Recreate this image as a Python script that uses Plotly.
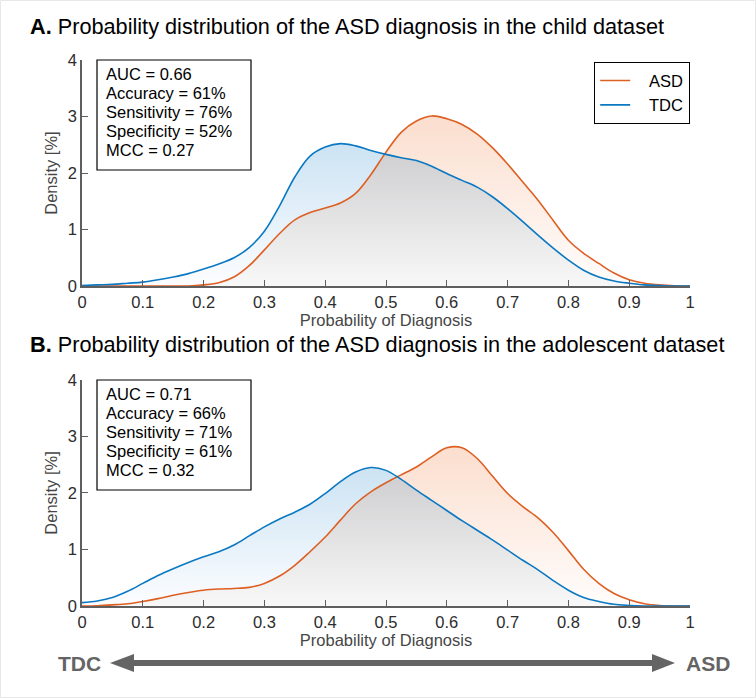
import plotly.graph_objects as go

# ---------------- data ----------------
x_prob = [0.0, 0.025, 0.05, 0.075, 0.1, 0.125, 0.15, 0.175, 0.2, 0.225, 0.25, 0.275, 0.3, 0.325,
          0.35, 0.375, 0.4, 0.425, 0.45, 0.475, 0.5, 0.525, 0.55, 0.575, 0.6, 0.625, 0.65, 0.675,
          0.7, 0.725, 0.75, 0.775, 0.8, 0.825, 0.85, 0.875, 0.9, 0.925, 0.95, 0.975, 1.0]

child_tdc = [0.01, 0.02, 0.03, 0.05, 0.07, 0.11, 0.16, 0.22, 0.30, 0.39, 0.50, 0.68, 0.97, 1.42,
             1.93, 2.30, 2.46, 2.52, 2.48, 2.40, 2.33, 2.27, 2.22, 2.12, 1.99, 1.87, 1.75, 1.58,
             1.37, 1.14, 0.90, 0.67, 0.46, 0.28, 0.16, 0.09, 0.05, 0.02, 0.01, 0.0, 0.0]
child_asd = [0.0, 0.0, 0.0, 0.0, 0.0, 0.0, 0.0, 0.0, 0.02, 0.06, 0.16, 0.36, 0.64, 0.93,
             1.17, 1.30, 1.38, 1.47, 1.64, 1.97, 2.37, 2.72, 2.92, 3.01, 2.96, 2.86, 2.69, 2.45,
             2.16, 1.84, 1.52, 1.16, 0.81, 0.58, 0.40, 0.23, 0.11, 0.05, 0.02, 0.005, 0.0]

adol_tdc = [0.06, 0.09, 0.15, 0.26, 0.40, 0.54, 0.66, 0.77, 0.87, 0.96, 1.08, 1.24, 1.40, 1.54,
            1.66, 1.80, 1.99, 2.20, 2.37, 2.45, 2.40, 2.24, 2.05, 1.87, 1.69, 1.51, 1.34, 1.17,
            0.99, 0.81, 0.64, 0.45, 0.28, 0.15, 0.08, 0.03, 0.01, 0.0, 0.0, 0.0, 0.0]
adol_asd = [0.0, 0.005, 0.02, 0.04, 0.08, 0.13, 0.19, 0.24, 0.28, 0.30, 0.31, 0.33, 0.40, 0.53,
            0.72, 0.96, 1.22, 1.52, 1.81, 2.02, 2.18, 2.32, 2.46, 2.64, 2.80, 2.80, 2.61, 2.30,
            1.99, 1.76, 1.56, 1.30, 0.98, 0.65, 0.40, 0.22, 0.11, 0.04, 0.01, 0.0, 0.0]

metrics_child = ["AUC = 0.66", "Accuracy = 61%", "Sensitivity = 76%", "Specificity = 52%", "MCC = 0.27"]
metrics_adol = ["AUC = 0.71", "Accuracy = 66%", "Sensitivity = 71%", "Specificity = 61%", "MCC = 0.32"]

series_names = ["ASD", "TDC"]
titles = ["<b>A.</b> Probability distribution of the ASD diagnosis in the child dataset",
          "<b>B.</b> Probability distribution of the ASD diagnosis in the adolescent dataset"]
x_ticks = [0, 0.1, 0.2, 0.3, 0.4, 0.5, 0.6, 0.7, 0.8, 0.9, 1]
x_ticklabels = ["0", "0.1", "0.2", "0.3", "0.4", "0.5", "0.6", "0.7", "0.8", "0.9", "1"]
y_ticks = [0, 1, 2, 3, 4]

# ---------------- style ----------------
BLUE = "#0A78C2"
ORANGE = "#DE5F22"
AXIS = "rgb(95,95,95)"
FONT = "Liberation Sans, Arial, sans-serif"
PAD = "\u00a0\u00a0\u00a0"

fig = go.Figure()

panels = [("x", "y", child_asd, child_tdc, True), ("x2", "y2", adol_asd, adol_tdc, False)]
for xa, ya, asd, tdc, show in panels:
    overlap = [min(a, t) for a, t in zip(asd, tdc)]
    fig.add_trace(go.Scatter(x=x_prob, y=asd, xaxis=xa, yaxis=ya, mode="lines",
                             line=dict(width=0, shape="spline"), fill="tozeroy",
                             fillgradient=dict(type="vertical",
                                               colorscale=[[0, "rgb(255,253,252)"], [1, "rgb(251,222,206)"]]),
                             showlegend=False, hoverinfo="skip"))
    fig.add_trace(go.Scatter(x=x_prob, y=tdc, xaxis=xa, yaxis=ya, mode="lines",
                             line=dict(width=0, shape="spline"), fill="tozeroy",
                             fillgradient=dict(type="vertical",
                                               colorscale=[[0, "rgb(252,253,255)"], [1, "rgb(204,227,243)"]]),
                             showlegend=False, hoverinfo="skip"))
    fig.add_trace(go.Scatter(x=x_prob, y=overlap, xaxis=xa, yaxis=ya, mode="lines",
                             line=dict(width=0, shape="spline"), fill="tozeroy",
                             fillgradient=dict(type="vertical",
                                               colorscale=[[0, "rgb(248,248,248)"], [1, "rgb(208,208,210)"]]),
                             showlegend=False, hoverinfo="skip"))
    fig.add_trace(go.Scatter(x=x_prob, y=asd, xaxis=xa, yaxis=ya, mode="lines", name=PAD + series_names[0],
                             line=dict(color=ORANGE, width=1.6, shape="spline"), showlegend=show))
    fig.add_trace(go.Scatter(x=x_prob, y=tdc, xaxis=xa, yaxis=ya, mode="lines", name=PAD + series_names[1],
                             line=dict(color=BLUE, width=1.6, shape="spline"), showlegend=show))

axis_common = dict(showline=True, linecolor=AXIS, linewidth=1.5, ticks="inside", ticklen=6,
                   tickcolor=AXIS, tickwidth=1, showgrid=False, zeroline=False,
                   tickfont=dict(family=FONT, size=16.5, color="rgb(45,45,45)"))
xtitle = dict(text="Probability of Diagnosis", font=dict(size=16.5, color="rgb(70,70,70)"), standoff=2)
ytitle = dict(text="Density [%]", font=dict(size=16.5, color="rgb(70,70,70)"), standoff=6)

fig.update_layout(
    width=756, height=698,
    margin=dict(l=82, r=66, t=60, b=92),
    paper_bgcolor="white", plot_bgcolor="white",
    font=dict(family=FONT),
    xaxis=dict(domain=[0, 1], anchor="y", range=[0, 1], tickvals=x_ticks, ticktext=x_ticklabels,
               title=xtitle, **axis_common),
    yaxis=dict(domain=[0.586, 1], anchor="x", range=[0, 4], tickvals=y_ticks, title=ytitle, **axis_common),
    xaxis2=dict(domain=[0, 1], anchor="y2", range=[0, 1], tickvals=x_ticks, ticktext=x_ticklabels,
                title=xtitle, **axis_common),
    yaxis2=dict(domain=[0, 0.414], anchor="x2", range=[0, 4], tickvals=y_ticks, title=ytitle, **axis_common),
    legend=dict(x=(594 - 82) / 608, xanchor="left", y=(606 - 62) / 546, yanchor="top", bgcolor="white",
                bordercolor="black", borderwidth=1.2, font=dict(size=16.5, color="black"),
                traceorder="normal", entrywidth=72, entrywidthmode="pixels"),
    showlegend=True,
)


def px(v):
    return (v - 82) / 608


def py(v):
    return (606 - v) / 546


# panel titles
for title, ypix in zip(titles, [26, 345]):
    fig.add_annotation(text=title, xref="paper", yref="paper", x=px(28), y=py(ypix),
                       xanchor="left", yanchor="middle", showarrow=False,
                       font=dict(size=21.7, color="black", family=FONT))

# metric boxes
for lines, top in [(metrics_child, 60), (metrics_adol, 380)]:
    fig.add_shape(type="rect", xref="paper", yref="paper", x0=px(97), x1=px(251), y0=py(top), y1=py(top + 110),
                  line=dict(color="black", width=1.2), fillcolor="white", layer="above")
    for i, txt in enumerate(lines):
        fig.add_annotation(text=txt, xref="paper", yref="paper", x=px(104), y=py(top + 14 + 19 * i),
                           xanchor="left", yanchor="middle", showarrow=False,
                           font=dict(size=16.5, color="black", family=FONT))

# TDC <-> ASD arrow
yc = 663
fig.add_shape(type="line", xref="paper", yref="paper", x0=px(130), x1=px(656), y0=py(yc), y1=py(yc),
              line=dict(color="rgb(100,100,100)", width=6))
fig.add_shape(type="path", xref="paper", yref="paper", fillcolor="rgb(100,100,100)", line=dict(width=0),
              path=f"M {px(110)},{py(yc)} L {px(134)},{py(yc - 9)} L {px(134)},{py(yc + 9)} Z")
fig.add_shape(type="path", xref="paper", yref="paper", fillcolor="rgb(100,100,100)", line=dict(width=0),
              path=f"M {px(675)},{py(yc)} L {px(652)},{py(yc - 9)} L {px(652)},{py(yc + 9)} Z")
fig.add_annotation(text="<b>TDC</b>", xref="paper", yref="paper", x=px(79), y=py(yc), showarrow=False,
                   xanchor="center", yanchor="middle", font=dict(size=21, color="rgb(100,100,100)", family=FONT))
fig.add_annotation(text="<b>ASD</b>", xref="paper", yref="paper", x=px(708), y=py(yc), showarrow=False,
                   xanchor="center", yanchor="middle", font=dict(size=21, color="rgb(100,100,100)", family=FONT))

# faint outer frame
fig.add_shape(type="rect", xref="paper", yref="paper", x0=px(0.5), x1=px(755.5), y0=py(697.5), y1=py(0.5),
              line=dict(color="rgb(232,232,232)", width=1), layer="below")

fig.write_html("out.html", config={"displayModeBar": False},
               post_script="document.body.style.margin='0px';")
